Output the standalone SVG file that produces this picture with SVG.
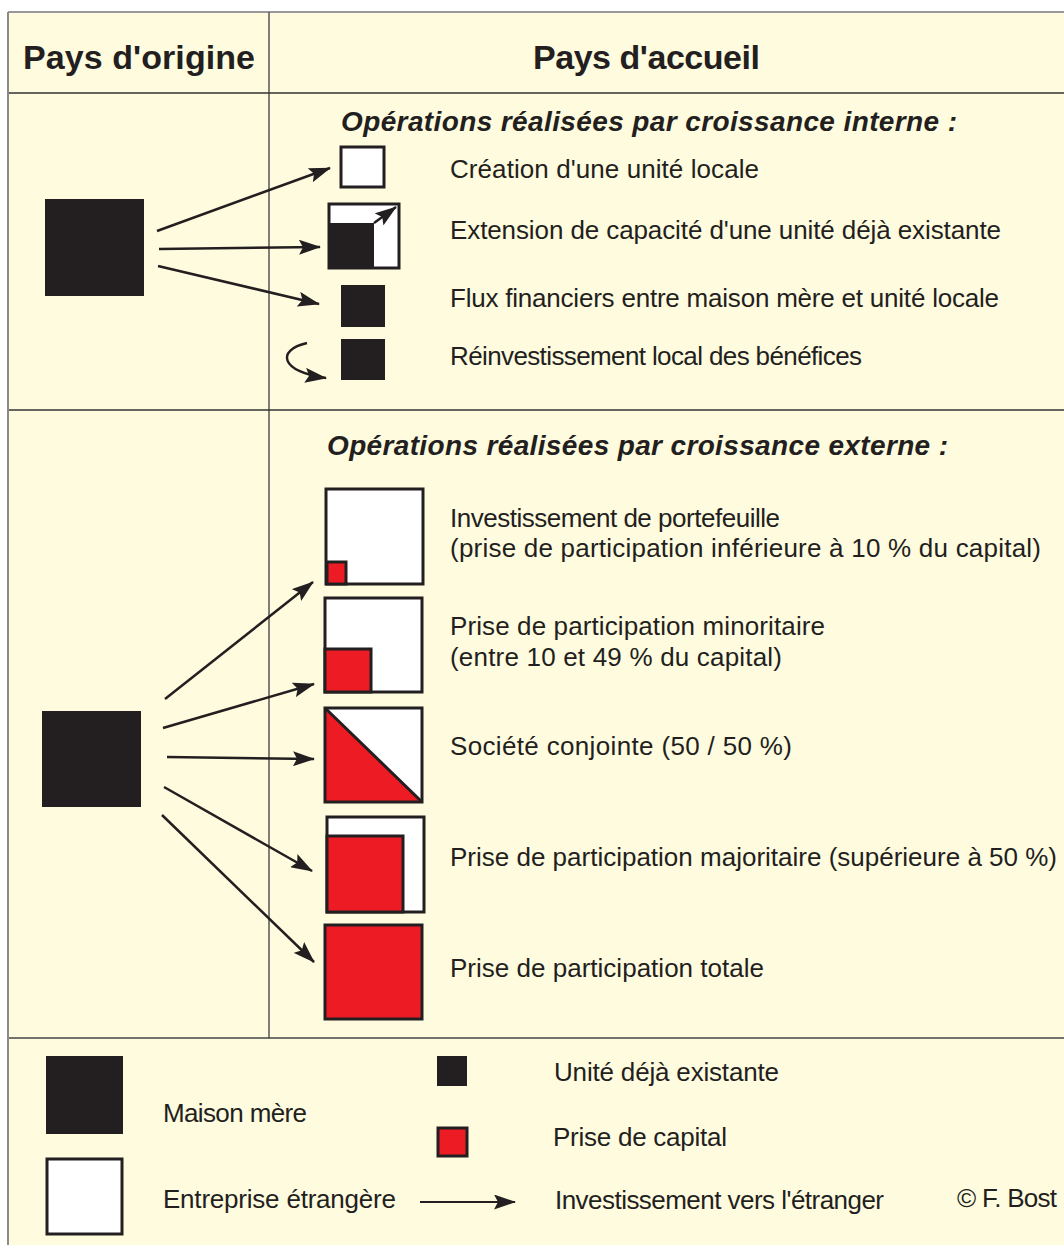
<svg xmlns="http://www.w3.org/2000/svg" width="1064" height="1245" viewBox="0 0 1064 1245">
<style>
.t{font-family:"Liberation Sans",Arial,sans-serif;font-size:26px;fill:#231F20}
.h{font-family:"Liberation Sans",Arial,sans-serif;font-size:34px;font-weight:bold;fill:#231F20}
.s{font-family:"Liberation Sans",Arial,sans-serif;font-size:28px;font-weight:bold;font-style:italic;fill:#231F20}
.blk{fill:#231F20}
.box{stroke:#231F20;stroke-width:3}
.wht{fill:#FFFFFF}
.red{fill:#ED1C24}
.arr{fill:none;stroke:#231F20;stroke-width:2.5;marker-end:url(#ah)}
</style>
<defs>
<marker id="ah" viewBox="0 0 22 15" refX="21" refY="7.5" markerWidth="22" markerHeight="15" markerUnits="userSpaceOnUse" orient="auto">
<path d="M0,0 L22,7.5 L0,15 L4,7.5 Z" fill="#231F20"/>
</marker>
</defs>
<rect x="0" y="0" width="1064" height="1245" fill="#FFFFFF"/>
<rect x="9" y="13" width="1055" height="1232" fill="#FEFBDF"/>
<g id="frame" fill="none">
<line x1="8" y1="12" x2="1064" y2="12" stroke="#777" stroke-width="1.5"/>
<line x1="8" y1="12" x2="8" y2="1245" stroke="#8a8a8a" stroke-width="2"/>
<line x1="269" y1="12" x2="269" y2="1038" stroke="#555" stroke-width="1.5"/>
<line x1="9" y1="93" x2="1064" y2="93" stroke="#333" stroke-width="1.5"/>
<line x1="9" y1="410" x2="1064" y2="410" stroke="#333" stroke-width="1.5"/>
<line x1="9" y1="1038" x2="1064" y2="1038" stroke="#444" stroke-width="1.5"/>
</g>
<g id="headers">
<text class="h" x="23" y="69" textLength="232">Pays d'origine</text>
<text class="h" x="533" y="69" textLength="227">Pays d'accueil</text>
<text class="s" x="341" y="131" textLength="616">Opérations réalisées par croissance interne :</text>
<text class="s" x="327" y="455" textLength="621">Opérations réalisées par croissance externe :</text>
</g>
<g id="parent1"><rect class="blk" x="45" y="199" width="99" height="97"/></g>
<g id="parent2"><rect class="blk" x="42" y="711" width="99" height="96"/></g>
<g id="creation">
<rect class="box wht" x="341" y="147" width="43" height="40"/>
<text class="t" x="450" y="178" textLength="309">Création d'une unité locale</text>
</g>
<g id="extension">
<rect class="box wht" x="329" y="204" width="70" height="64"/>
<rect class="blk" x="329" y="223" width="45" height="45"/>
<line class="arr" x1="374" y1="223" x2="396" y2="207"/>
<text class="t" x="450" y="239" textLength="551">Extension de capacité d'une unité déjà existante</text>
</g>
<g id="flux">
<rect class="blk" x="341" y="285" width="44" height="42"/>
<text class="t" x="450" y="307" textLength="549">Flux financiers entre maison mère et unité locale</text>
</g>
<g id="reinvest">
<rect class="blk" x="341" y="339" width="44" height="41"/>
<path class="arr" d="M307,343 C276,350 280,372 326,378"/>
<text class="t" x="450" y="365" textLength="412">Réinvestissement local des bénéfices</text>
</g>
<g id="portefeuille">
<rect class="box wht" x="326" y="489" width="97" height="95"/>
<rect class="box red" x="327" y="562" width="19" height="22"/>
<text class="t" x="450" y="527" textLength="330">Investissement de portefeuille</text>
<text class="t" x="450" y="557" textLength="591">(prise de participation inférieure à 10 % du capital)</text>
</g>
<g id="minoritaire">
<rect class="box wht" x="325" y="598" width="97" height="94"/>
<rect class="box red" x="325" y="649" width="46" height="43"/>
<text class="t" x="450" y="635" textLength="375">Prise de participation minoritaire</text>
<text class="t" x="450" y="666" textLength="332">(entre 10 et 49 % du capital)</text>
</g>
<g id="conjointe">
<rect class="wht" x="325" y="708" width="97" height="94"/>
<polygon class="red" points="325,708 422,802 325,802"/>
<line x1="325" y1="708" x2="422" y2="802" stroke="#231F20" stroke-width="3"/>
<rect class="box" fill="none" x="325" y="708" width="97" height="94"/>
<text class="t" x="450" y="755" textLength="342">Société conjointe (50 / 50 %)</text>
</g>
<g id="majoritaire">
<rect class="box wht" x="327" y="817" width="97" height="95"/>
<rect class="box red" x="327" y="836" width="76" height="76"/>
<text class="t" x="450" y="866" textLength="607">Prise de participation majoritaire (supérieure à 50 %)</text>
</g>
<g id="totale">
<rect class="box red" x="325" y="925" width="97" height="94"/>
<text class="t" x="450" y="977" textLength="314">Prise de participation totale</text>
</g>
<g id="connectors">
<line class="arr" x1="157" y1="231" x2="330" y2="168"/>
<line class="arr" x1="159" y1="249" x2="320" y2="247"/>
<line class="arr" x1="158" y1="266" x2="319" y2="304"/>
<line class="arr" x1="165" y1="699" x2="313" y2="582"/>
<line class="arr" x1="163" y1="728" x2="314" y2="684"/>
<line class="arr" x1="167" y1="757" x2="314" y2="759"/>
<line class="arr" x1="164" y1="787" x2="312" y2="871"/>
<line class="arr" x1="162" y1="815" x2="314" y2="962"/>
</g>
<g id="legend">
<rect class="blk" x="46" y="1056" width="77" height="78"/>
<text class="t" x="163" y="1122" textLength="144">Maison mère</text>
<rect class="box wht" x="47" y="1159" width="75" height="75"/>
<text class="t" x="163" y="1208" textLength="233">Entreprise étrangère</text>
<line class="arr" x1="420" y1="1202" x2="515" y2="1202" style="stroke-width:2"/>
<rect class="blk" x="437" y="1056" width="30" height="30"/>
<rect class="box red" x="438" y="1128" width="29" height="28"/>
<text class="t" x="554" y="1081" textLength="225">Unité déjà existante</text>
<text class="t" x="553" y="1146" textLength="174">Prise de capital</text>
<text class="t" x="555" y="1209" textLength="329">Investissement vers l'étranger</text>
<text class="t" x="957" y="1207" textLength="100">© F. Bost</text>
</g>
</svg>
